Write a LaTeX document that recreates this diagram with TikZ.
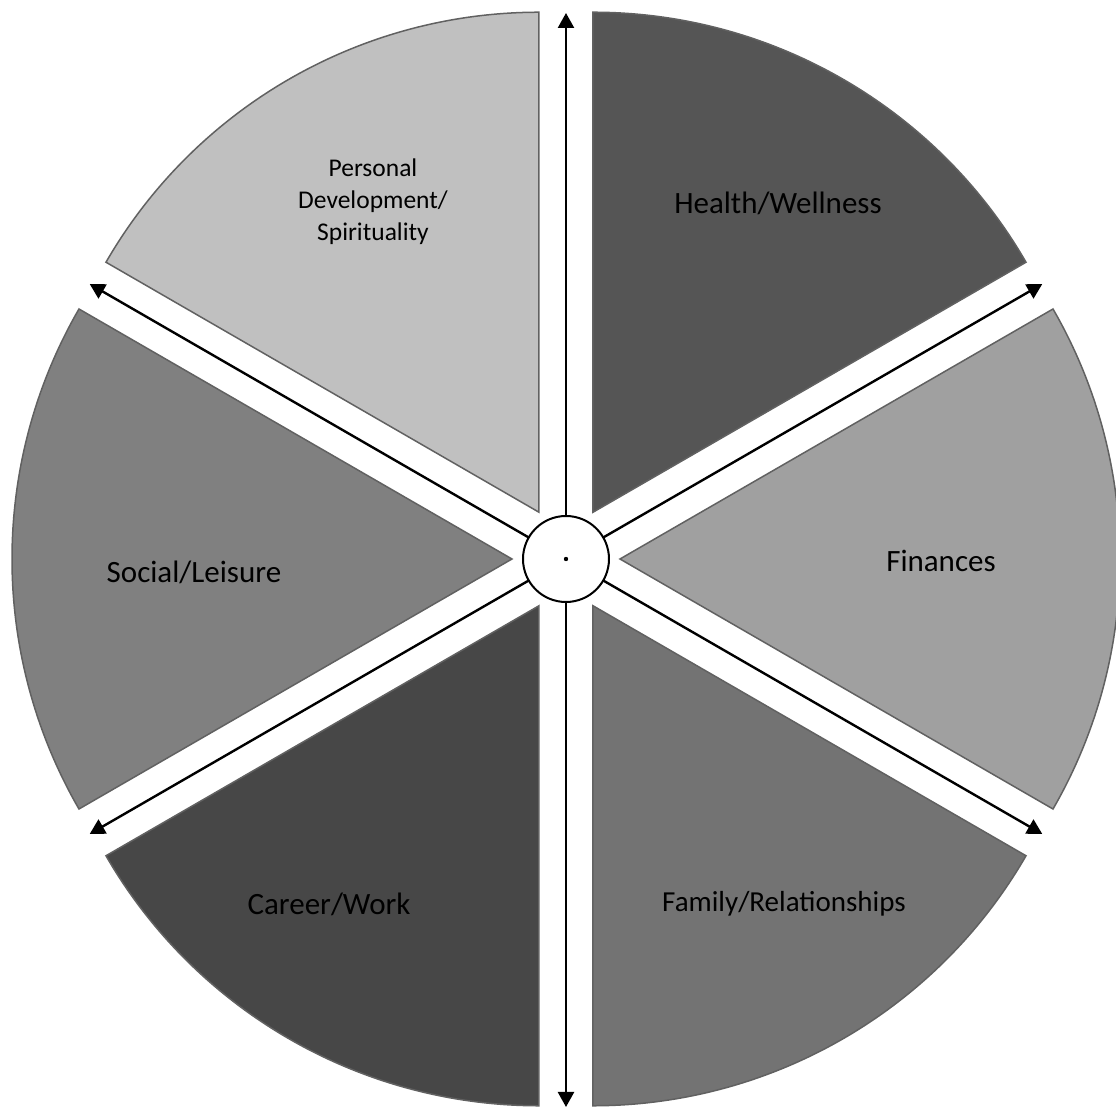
\documentclass[tikz,border=0pt]{standalone}
\usepackage{fontspec}
\setmainfont{Carlito}
\usetikzlibrary{arrows.meta}
\definecolor{healthgray}{HTML}{555555}
\definecolor{fingray}{HTML}{A0A0A0}
\definecolor{famgray}{HTML}{737373}
\definecolor{careergray}{HTML}{474747}
\definecolor{socialgray}{HTML}{808080}
\definecolor{persgray}{HTML}{C0C0C0}

\begin{document}
\begin{tikzpicture}[x=0.5pt,y=0.5pt,
  sector/.style={draw=black!62,line width=0.75pt},
  axis/.style={{Triangle[length=7.5pt,width=8pt]}-{Triangle[length=7.5pt,width=8pt]},line width=1.2pt},
  biglabel/.style={font=\fontsize{15.5}{19}\selectfont,anchor=base,inner sep=0pt},
  famlabel/.style={font=\fontsize{14.5}{18}\selectfont,anchor=base,inner sep=0pt},
  perslabel/.style={font=\fontsize{12.75}{16}\selectfont,align=center,inner sep=0pt}]
\clip (-566,-549) rectangle (550,559);
% wheel segments, each pushed out along its bisector
\foreach \b/\c in {60/healthgray, 0/fingray, -60/famgray, -120/careergray, 180/socialgray, 120/persgray} {
  \filldraw[sector,fill=\c] (\b:54) -- ++(\b-30:500) arc[start angle=\b-30, end angle=\b+30, radius=500] -- cycle; }
% axes
\coordinate (tipN) at (90:546);
\coordinate (tipS) at (270:548);
\coordinate (tipNE) at (30:550);
\coordinate (tipSW) at (210:550);
\coordinate (tipNW) at (150:550);
\coordinate (tipSE) at (330:550);
\draw[axis] (tipS) -- (tipN);
\draw[axis] (tipSW) -- (tipNE);
\draw[axis] (tipNW) -- (tipSE);
\node[draw,circle,fill=white,line width=1pt,minimum size=43pt,inner sep=0pt] (hub) at (0,0) {};
\fill (hub.center) circle (2.2);
% labels
\node[perslabel] (persdev) at (-193,357) {Personal\\Development/\\Spirituality};
\node[biglabel] (health) at (212,345) {Health/Wellness};
\node[biglabel] (finances) at (375,-13) {Finances};
\node[famlabel] (family) at (218,-353) {Family/Relationships};
\node[biglabel] (career) at (-237,-356) {Career/Work};
\node[biglabel] (social) at (-372,-24) {Social/Leisure};
\end{tikzpicture}
\end{document}
